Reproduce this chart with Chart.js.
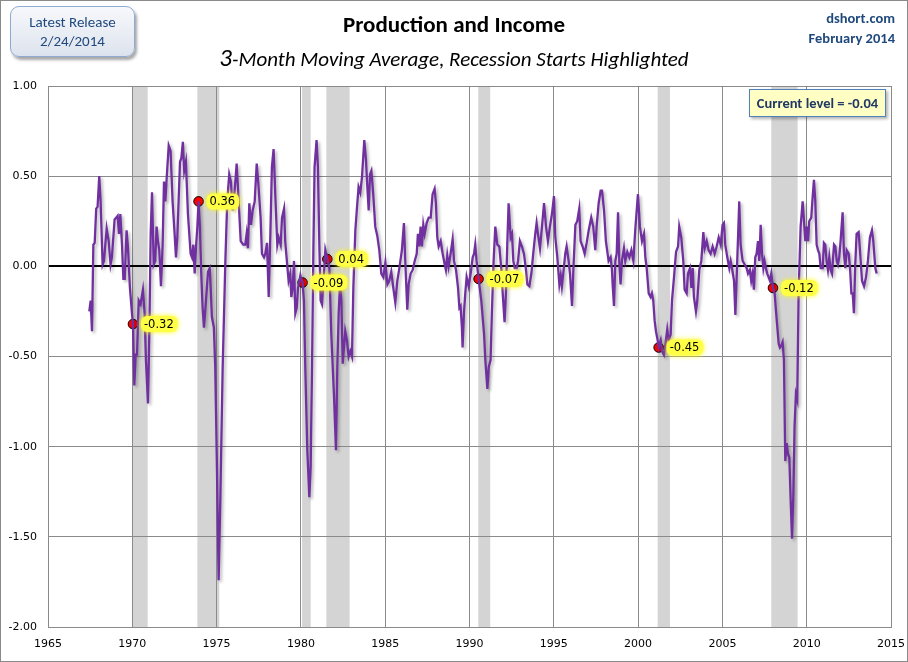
<!DOCTYPE html>
<html>
<head>
<meta charset="utf-8">
<script src="https://cdn.jsdelivr.net/npm/chart.js@4.4.1/dist/chart.umd.min.js"></script>
<style>
  html, body { margin: 0; padding: 0; background: #ffffff; }
  #wrap { position: relative; width: 908px; height: 662px; overflow: hidden; background: #fff; }
  #c { position: absolute; left: 0; top: 0; }
  .frame { position: absolute; left: 0; top: 0; width: 908px; height: 662px; box-sizing: border-box; border: 1px solid #8a8a8a; pointer-events: none; }
  .release { position: absolute; left: 10px; top: 6px; width: 125px; height: 51px; box-sizing: border-box;
    border: 1px solid #8eaad0; border-radius: 9px; background: linear-gradient(#f7f8fb, #dde3ee);
    box-shadow: 2px 3px 3px rgba(0,0,0,0.35); color: #1f497d; font-family: "Carlito", "Lato", sans-serif;
    font-size: 15px; text-align: center; line-height: 19px; padding-top: 6px; }
  .title { position: absolute; left: 0; width: 908px; top: 10px; text-align: center; font-family: "Carlito", "Lato", sans-serif;
    font-weight: bold; font-size: 23px; color: #000; }
  .subtitle { position: absolute; left: 0; width: 908px; top: 42px; text-align: center; font-family: "Carlito", "Lato", sans-serif;
    font-style: italic; font-size: 21px; color: #000; }
  .subtitle .big { font-size: 25px; }
  .src { position: absolute; right: 13px; text-align: right; font-family: "Carlito", "Lato", sans-serif; font-weight: bold;
    font-size: 14.5px; color: #1f497d; }
  .current { position: absolute; left: 749px; top: 89px; width: 137px; height: 28px; box-sizing: border-box;
    border: 1px solid #4f81bd; background: #ffffc4; box-shadow: 2px 2px 3px rgba(0,0,0,0.3);
    font-family: "Carlito", "Lato", sans-serif; font-weight: bold; font-size: 14.5px; color: #1f3864;
    text-align: center; line-height: 26px; white-space: nowrap; }
</style>
</head>
<body>
<div id="wrap">
  <canvas id="c" width="908" height="662"></canvas>
  <div class="release">Latest Release<br>2/24/2014</div>
  <div class="title">Production and Income</div>
  <div class="subtitle"><span class="big">3</span>-Month Moving Average, Recession Starts Highlighted</div>
  <div class="src" style="top:9px;">dshort.com</div>
  <div class="src" style="top:29px;">February 2014</div>
  <div class="current">Current level = -0.04</div>
  <div class="frame"></div>
</div>
<script>
// ---- Data (decimal year, 3-month moving average value) ----
const years1967 = [
  1967.45,1967.53,1967.61,1967.69,1967.77,1967.86,1967.94,1968.04,1968.12,1968.24,
  1968.32,1968.48,1968.60,1968.71,1968.79,1968.95,1969.05,1969.13,1969.21,1969.29,
  1969.39,1969.47,1969.55,1969.66,1969.74,1969.86,1969.98,1970.04,1970.12,1970.20,
  1970.28,1970.38,1970.49,1970.63,1970.73,1970.81,1970.93,1971.01,1971.09,1971.17,
  1971.27,1971.36,1971.44,1971.52,1971.60,1971.70,1971.80,1971.88,1971.96,1972.04,
  1972.16,1972.27,1972.39,1972.51,1972.59,1972.67,1972.83,1972.91,1973.00,1973.08,
  1973.18,1973.30,1973.46,1973.54,1973.62,1973.70,1973.78,1973.86,1973.93,1974.01,
  1974.09,1974.17,1974.25,1974.37,1974.49,1974.59,1974.65,1974.72,1974.84,1974.92,
  1975.02,1975.12
];
const values1967 = [
  -0.25,-0.19,-0.36,0.12,0.13,0.32,0.33,0.50,0.36,0.01,
  0.03,0.21,0.14,0.01,0.05,0.26,0.27,0.28,0.18,0.29,
  0.12,-0.07,-0.07,0.20,0.11,-0.12,-0.26,-0.32,-0.66,-0.49,
  -0.49,-0.19,-0.21,-0.13,-0.26,-0.52,-0.76,-0.37,0.18,0.41,
  0.01,0.03,0.22,0.14,0.09,-0.11,0.12,0.47,0.36,0.49,
  0.67,0.64,0.36,0.18,0.05,0.16,0.58,0.60,0.69,0.53,
  0.58,0.29,0.07,0.05,0.12,-0.04,0.11,0.22,0.36,0.22,
  -0.04,-0.23,-0.34,-0.19,-0.03,-0.01,-0.12,-0.28,-0.34,-0.56,
  -1.11,-1.74
];
const years1975 = [
  1975.22,1975.36,1975.52,1975.63,1975.75,1975.85,1975.95,1976.07,1976.19,1976.31,
  1976.43,1976.58,1976.70,1976.78,1976.86,1976.94,1977.04,1977.14,1977.26,1977.38,
  1977.49,1977.61,1977.69,1977.81,1977.89,1977.99,1978.09,1978.19,1978.28,1978.38,
  1978.48,1978.60,1978.68,1978.80,1978.88,1979.00,1979.07,1979.15,1979.27,1979.37,
  1979.43,1979.51,1979.59,1979.67,1979.75,1979.83,1979.97,1980.02,1980.10,1980.18,
  1980.26,1980.38,1980.50,1980.58,1980.66,1980.74,1980.81,1980.93,1981.01,1981.09,
  1981.17,1981.25,1981.37,1981.45,1981.57,1981.69,1981.80,1981.96,1982.08,1982.16,
  1982.24,1982.32,1982.40,1982.48
];
const values1975 = [
  -1.30,-0.56,0.03,0.36,0.51,0.47,0.31,0.42,0.57,0.36,
  0.14,0.12,0.12,0.18,0.10,0.35,0.23,0.31,0.36,0.57,
  0.44,0.27,0.07,0.05,0.07,0.13,-0.17,0.18,0.55,0.65,
  0.40,0.12,0.16,0.12,0.27,0.32,0.14,0.05,-0.08,-0.04,
  -0.17,-0.12,0.03,-0.26,-0.23,-0.12,-0.05,-0.07,-0.09,-0.19,
  -0.56,-1.02,-1.28,-1.11,-0.56,0.09,0.55,0.70,0.55,0.14,
  -0.19,-0.21,-0.04,0.09,0.04,-0.01,-0.37,-0.71,-1.02,-0.56,
  -0.26,-0.10,-0.19,-0.54
];
const years1982 = [
  1982.63,1982.73,1982.83,1982.93,1983.03,1983.11,1983.23,1983.33,1983.42,1983.52,
  1983.62,1983.76,1983.86,1983.94,1984.02,1984.10,1984.18,1984.29,1984.41,1984.53,
  1984.65,1984.77,1984.89,1985.01,1985.13,1985.24,1985.36,1985.48,1985.60,1985.72,
  1985.84,1985.99,1986.11,1986.19,1986.31,1986.39,1986.51,1986.63,1986.75,1986.87,
  1986.94,1987.02,1987.10,1987.18,1987.26,1987.34,1987.46,1987.58,1987.70,1987.81,
  1987.93,1988.01,1988.09,1988.17,1988.29,1988.41,1988.53,1988.60,1988.68,1988.76,
  1988.88,1989.00,1989.08,1989.20,1989.32,1989.40,1989.47,1989.55,1989.59,1989.67,
  1989.75,1989.83,1989.95,1990.07,1990.19,1990.27,1990.34,1990.42
];
const values1982 = [
  -0.36,-0.41,-0.50,-0.47,-0.50,-0.12,0.20,0.33,0.44,0.41,
  0.49,0.70,0.59,0.44,0.31,0.51,0.53,0.40,0.22,0.17,
  0.09,-0.04,-0.06,0.02,-0.10,-0.08,-0.03,-0.12,-0.20,-0.08,
  -0.01,0.09,0.24,0.03,-0.24,-0.10,-0.04,-0.02,0.03,0.07,
  0.18,0.11,0.22,0.11,0.23,0.18,0.24,0.27,0.27,0.40,
  0.43,0.35,0.16,0.11,0.14,0.07,0.01,-0.02,0.06,0.00,
  0.07,0.15,0.03,-0.02,-0.12,-0.23,-0.22,-0.34,-0.45,-0.26,
  -0.15,-0.06,-0.11,-0.04,0.05,0.07,0.12,0.03
];
const years1990 = [
  1990.54,1990.70,1990.86,1990.94,1991.06,1991.14,1991.25,1991.33,1991.43,1991.53,
  1991.65,1991.77,1991.89,1991.97,1992.08,1992.16,1992.24,1992.32,1992.44,1992.52,
  1992.60,1992.68,1992.80,1992.88,1992.99,1993.11,1993.23,1993.35,1993.43,1993.55,
  1993.67,1993.78,1993.90,1993.98,1994.06,1994.18,1994.30,1994.42,1994.54,1994.65,
  1994.77,1994.89,1995.01,1995.09,1995.21,1995.33,1995.41,1995.48,1995.56,1995.68,
  1995.76,1995.88,1995.96,1996.08,1996.16,1996.28,1996.39,1996.51,1996.59,1996.71,
  1996.83,1996.95,1997.07,1997.22,1997.34,1997.46,1997.54,1997.66,1997.78,1997.86,
  1997.98,1998.09
];
const values1990 = [
  -0.07,-0.19,-0.37,-0.52,-0.68,-0.56,-0.52,-0.25,0.03,0.22,
  0.12,0.11,-0.02,-0.15,-0.31,-0.15,0.12,0.35,0.16,0.18,
  0.03,-0.01,-0.01,0.03,0.14,0.11,0.07,-0.02,-0.10,-0.11,
  -0.04,0.07,0.18,0.24,0.18,0.10,0.22,0.35,0.22,0.14,
  0.22,0.29,0.39,0.16,0.05,-0.10,-0.05,-0.11,-0.04,0.07,
  0.11,0.03,-0.04,-0.22,-0.02,0.23,0.25,0.32,0.14,0.11,
  0.07,0.13,0.20,0.27,0.22,0.09,0.22,0.35,0.42,0.42,
  0.31,0.14
];
const years1998 = [
  1998.25,1998.37,1998.45,1998.49,1998.57,1998.65,1998.73,1998.81,1998.89,1998.96,
  1999.04,1999.16,1999.24,1999.36,1999.48,1999.60,1999.72,1999.83,1999.99,2000.11,
  2000.23,2000.35,2000.43,2000.51,2000.63,2000.74,2000.82,2000.90,2000.98,2001.06,
  2001.18,2001.22,2001.34,2001.42,2001.53,2001.65,2001.73,2001.81,2001.93,2002.01,
  2002.13,2002.25,2002.37,2002.44,2002.56,2002.68,2002.76,2002.88,2002.96,2003.08,
  2003.16,2003.24,2003.31,2003.43,2003.51,2003.63,2003.75,2003.87,2003.95,2004.07,
  2004.18,2004.30,2004.42,2004.54,2004.66,2004.78,2004.90,2005.01,2005.09,2005.17,
  2005.29,2005.41,2005.49,2005.57,2005.69,2005.77
];
const values1998 = [
  0.03,0.05,-0.02,-0.10,-0.22,0.03,0.07,0.30,0.01,-0.10,
  0.03,0.10,0.03,0.08,0.05,0.09,0.03,0.20,0.40,0.22,
  0.14,0.18,0.05,-0.01,-0.15,-0.17,-0.15,-0.19,-0.30,-0.36,
  -0.42,-0.45,-0.41,-0.47,-0.49,-0.41,-0.35,-0.41,-0.38,-0.19,
  -0.06,0.08,0.11,0.22,0.16,0.03,-0.13,-0.15,-0.04,-0.01,
  -0.12,-0.01,-0.17,-0.25,-0.19,-0.02,0.03,0.19,0.10,0.14,
  0.09,0.07,0.11,0.07,0.11,0.16,0.12,0.23,0.24,0.12,
  0.05,-0.01,0.03,-0.01,-0.08,-0.27
];
const years2006 = [
  2006.00,2006.08,2006.20,2006.32,2006.44,2006.52,2006.63,2006.71,2006.79,2006.87,
  2006.95,2007.03,2007.11,2007.19,2007.27,2007.35,2007.43,2007.50,2007.58,2007.66,
  2007.74,2007.82,2007.90,2008.00,2008.10,2008.18,2008.26,2008.34,2008.41,2008.49,
  2008.57,2008.65,2008.73,2008.81,2008.89,2008.97,2009.05,2009.13,2009.21,2009.28,
  2009.36,2009.44,2009.52,2009.64,2009.76,2009.84,2009.92,2010.00,2010.08,2010.15,
  2010.27,2010.35,2010.43,2010.51,2010.59,2010.67,2010.75,2010.83,2010.95,2011.02,
  2011.10,2011.18,2011.26,2011.34,2011.42,2011.50,2011.62,2011.70,2011.78,2011.85,
  2011.93,2012.01,2012.13,2012.21,2012.29,2012.37,2012.49,2012.57,2012.65,2012.73,
  2012.80,2012.88,2012.96,2013.08,2013.16,2013.28,2013.40,2013.52,2013.63,2013.75,
  2013.87,2013.95,2014.07,2014.15
];
const values2006 = [
  0.36,0.12,0.03,0.01,-0.01,-0.04,-0.02,-0.08,-0.04,-0.13,
  0.05,0.07,0.14,0.03,0.23,0.07,-0.01,0.03,-0.01,-0.04,
  -0.06,-0.08,-0.04,-0.12,-0.15,-0.25,-0.34,-0.43,-0.45,-0.44,
  -0.42,-0.52,-1.08,-0.98,-1.04,-1.06,-1.30,-1.51,-1.26,-0.89,
  -0.71,-0.74,-0.15,0.22,0.36,0.25,0.14,0.22,0.14,0.25,
  0.27,0.38,0.48,0.36,0.12,0.09,0.07,-0.01,-0.01,0.13,
  0.12,0.03,-0.02,0.05,-0.02,-0.04,0.12,0.11,0.03,0.01,
  0.05,0.14,0.30,0.07,-0.01,0.09,0.07,-0.01,-0.15,-0.15,
  -0.26,0.01,0.18,0.19,0.09,-0.08,-0.11,-0.06,0.03,0.16,
  0.20,0.14,-0.01,-0.04
];

// Recession-start markers
const markerYears  = [1970.04, 1973.93, 1980.10, 1981.57, 1990.54, 2001.22, 2008.00];
const markerValues = [-0.32, 0.36, -0.09, 0.04, -0.07, -0.45, -0.12];
const markerLabels = ["-0.32", "0.36", "-0.09", "0.04", "-0.07", "-0.45", "-0.12"];

// Recession shading (decimal years)
const recessionStart = [1970.00, 1973.86, 1980.07, 1981.51, 1990.52, 2001.16, 2007.90];
const recessionEnd   = [1970.91, 1975.16, 1980.58, 1982.89, 1991.23, 2001.89, 2009.46];

const xTickLabels = ["1965","1970","1975","1980","1985","1990","1995","2000","2005","2010","2015"];
const yTickLabels = ["-2.00","-1.50","-1.00","-0.50","0.00","0.50","1.00"];

// ---- build ----
const allYears = [].concat(years1967, years1975, years1982, years1990, years1998, years2006);
const allValues = [].concat(values1967, values1975, values1982, values1990, values1998, values2006);
const linePoints = allYears.map((x, i) => ({ x: x, y: allValues[i] }));
const markerPoints = markerYears.map((x, i) => ({ x: x, y: markerValues[i] }));

const recessionPlugin = {
  id: 'recessions',
  beforeDraw(chart) {
    const { ctx, chartArea, scales } = chart;
    ctx.save();
    ctx.fillStyle = '#d4d4d4';
    recessionStart.forEach((s, i) => {
      const x0 = scales.x.getPixelForValue(s);
      const x1 = scales.x.getPixelForValue(recessionEnd[i]);
      ctx.fillRect(x0, chartArea.top, x1 - x0, chartArea.bottom - chartArea.top);
    });
    ctx.restore();
  }
};

const shadowPlugin = {
  id: 'lineShadow',
  beforeDatasetDraw(chart, args) {
    if (args.index !== 0) return;
    const ctx = chart.ctx;
    ctx.save();
    ctx.shadowColor = 'rgba(0,0,0,0.28)';
    ctx.shadowBlur = 3;
    ctx.shadowOffsetX = 2;
    ctx.shadowOffsetY = 2;
  },
  afterDatasetDraw(chart, args) {
    if (args.index !== 0) return;
    chart.ctx.restore();
  }
};

const labelPlugin = {
  id: 'markerLabels',
  afterDatasetsDraw(chart) {
    const { ctx, scales } = chart;
    ctx.save();
    ctx.font = '11.5px "DejaVu Sans", Verdana, sans-serif';
    ctx.textBaseline = 'middle';
    markerYears.forEach((yr, i) => {
      const px = scales.x.getPixelForValue(yr);
      const py = scales.y.getPixelForValue(markerValues[i]);
      const txt = markerLabels[i];
      const w = ctx.measureText(txt).width;
      const bx = px + 8, by = py - 8, bw = w + 7, bh = 16;
      ctx.save();
      ctx.shadowColor = 'rgba(255,255,0,1)';
      ctx.shadowBlur = 5;
      ctx.fillStyle = 'rgba(255,255,70,0.95)';
      ctx.beginPath();
      if (ctx.roundRect) ctx.roundRect(bx, by, bw, bh, 6); else ctx.rect(bx, by, bw, bh);
      ctx.fill();
      ctx.restore();
      ctx.fillStyle = '#000';
      ctx.fillText(txt, bx + 3, py + 1);
    });
    ctx.restore();
  }
};

new Chart(document.getElementById('c'), {
  type: 'line',
  data: {
    datasets: [
      {
        data: linePoints,
        borderColor: '#7030a0',
        borderWidth: 2.3,
        pointRadius: 0,
        tension: 0,
        fill: false
      },
      {
        data: markerPoints,
        showLine: false,
        pointRadius: 4.8,
        pointBackgroundColor: '#ff0000',
        pointBorderColor: '#000000',
        pointBorderWidth: 1
      }
    ]
  },
  options: {
    responsive: false,
    animation: false,
    devicePixelRatio: 1,
    layout: { padding: { left: 0, right: 17, top: 86, bottom: 0 } },
    plugins: { legend: { display: false }, tooltip: { enabled: false }, title: { display: false } },
    scales: {
      x: {
        type: 'linear', min: 1965, max: 2015,
        afterFit(s) { s.height = 35; s.paddingLeft = 0; s.paddingRight = 0; },
        ticks: {
          stepSize: 5, padding: 11, color: '#000', maxRotation: 0,
          font: { family: '"DejaVu Sans", Verdana, sans-serif', size: 11 },
          callback: (v, i) => xTickLabels[i]
        },
        grid: { color: '#8a8a8a', lineWidth: 1, drawTicks: false },
        border: { color: '#8a8a8a', width: 1 }
      },
      y: {
        type: 'linear', min: -2, max: 1,
        afterFit(s) { s.width = 48; s.paddingTop = 0; s.paddingBottom = 0; },
        ticks: {
          stepSize: 0.5, padding: 11, color: '#000',
          font: { family: '"DejaVu Sans", Verdana, sans-serif', size: 11 },
          callback: (v, i) => yTickLabels[i]
        },
        grid: {
          color: (c) => c.tick && c.tick.value === 0 ? '#000000' : '#8a8a8a',
          lineWidth: (c) => c.tick && c.tick.value === 0 ? 2 : 1,
          drawTicks: false
        },
        border: { color: '#8a8a8a', width: 1 }
      }
    }
  },
  plugins: [recessionPlugin, shadowPlugin, labelPlugin]
});
</script>
</body>
</html>
